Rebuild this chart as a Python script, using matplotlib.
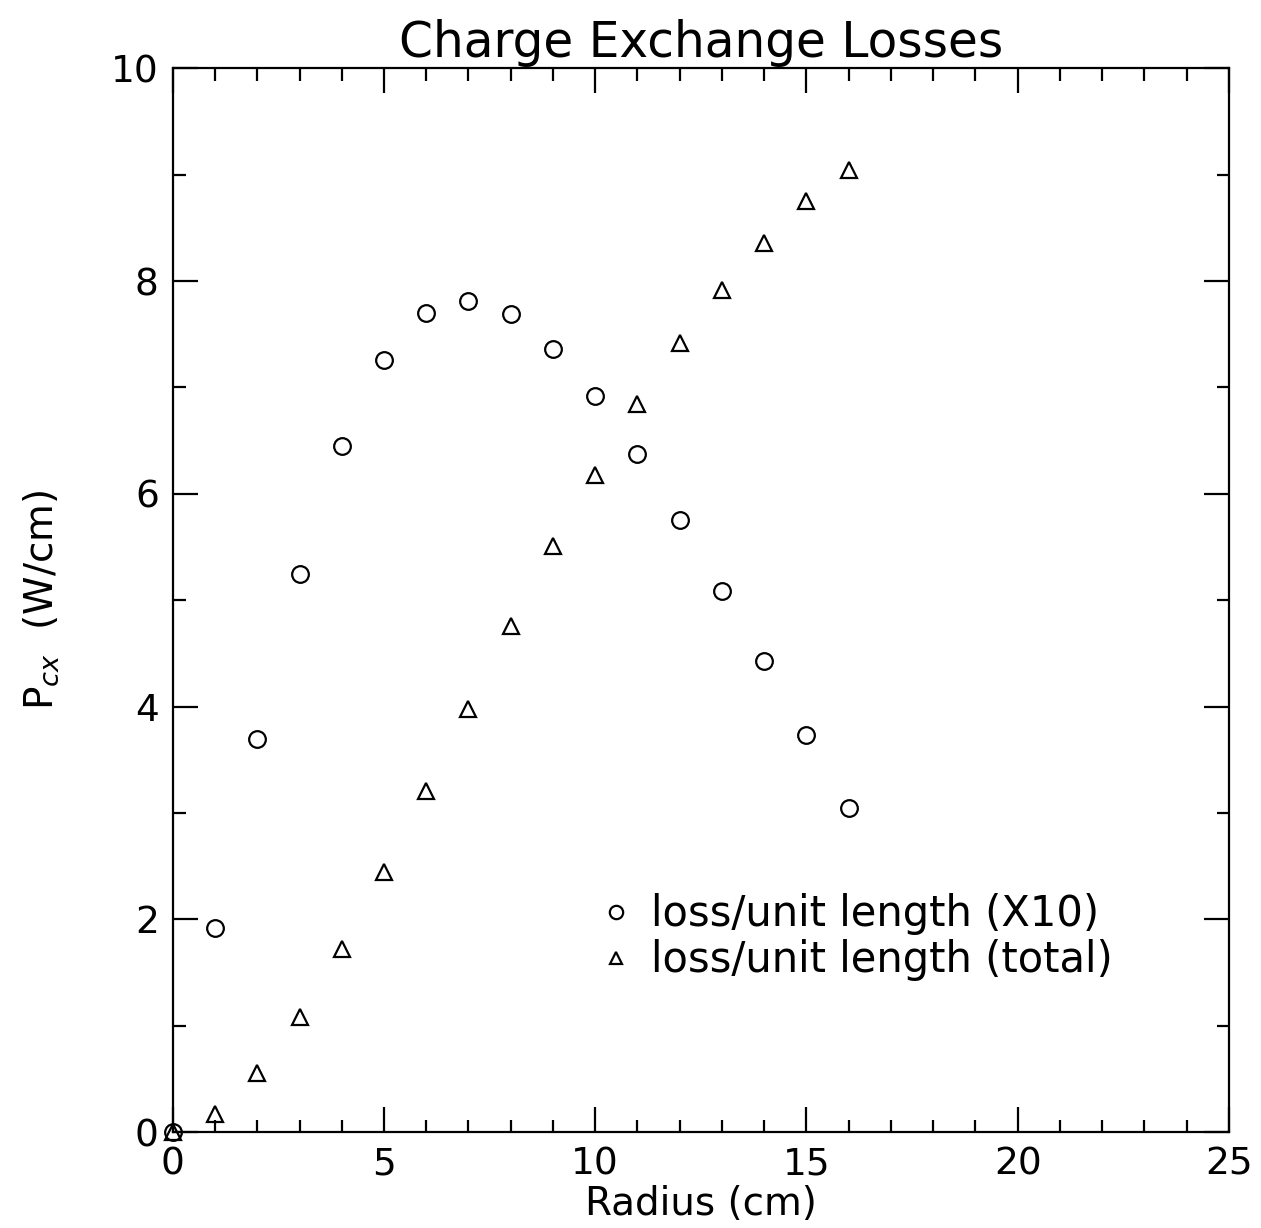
import numpy as np
import matplotlib.pyplot as plt
from matplotlib.ticker import MultipleLocator

# data
radius = [0, 1, 2, 3, 4, 5, 6, 7, 8, 9, 10, 11, 12, 13, 14, 15, 16]
loss_x10 = [0.0, 1.92, 3.70, 5.25, 6.45, 7.26, 7.70, 7.81, 7.69, 7.36,
            6.92, 6.37, 5.75, 5.09, 4.43, 3.73, 3.05]
loss_total = [0.0, 0.17, 0.56, 1.08, 1.72, 2.45, 3.21, 3.98, 4.76, 5.51,
              6.18, 6.84, 7.42, 7.92, 8.36, 8.75, 9.04]

def plot_losses():
    plt.rcParams['font.family'] = ['DejaVu Sans']
    fig = plt.figure(figsize=(12.61, 12.28), dpi=100)
    ax = fig.add_axes([0.137, 0.078, 0.8376, 0.8664])

    ax.plot(radius, loss_x10, linestyle="none", marker="o", markersize=12,
            markerfacecolor="none", markeredgecolor="black", markeredgewidth=1.6,
            clip_on=False, label="loss/unit length (X10)")
    ax.plot(radius, loss_total, linestyle="none", marker="^", markersize=11,
            markerfacecolor="none", markeredgecolor="black", markeredgewidth=1.6,
            clip_on=False, label="loss/unit length (total)")

    ax.set_xlim(0, 25)
    ax.set_ylim(0, 10)
    ax.xaxis.set_major_locator(MultipleLocator(5))
    ax.xaxis.set_minor_locator(MultipleLocator(1))
    ax.yaxis.set_major_locator(MultipleLocator(2))
    ax.yaxis.set_minor_locator(MultipleLocator(1))
    ax.tick_params(which="both", direction="in", top=True, right=True,
                   width=1.6, labelsize=27, pad=10)
    ax.tick_params(which="major", length=18)
    ax.tick_params(which="minor", length=9)
    for s in ax.spines.values():
        s.set_linewidth(1.6)

    ax.set_title("Charge Exchange Losses", fontsize=35, pad=8)
    ax.set_xlabel("Radius (cm)", fontsize=28, labelpad=2)
    ax.set_ylabel(r"P$_{cx}$  (W/cm)", fontsize=28, labelpad=36)

    ax.legend(loc="upper left", bbox_to_anchor=(0.37, 0.26), frameon=False,
              fontsize=30, handlelength=0.7, handletextpad=0.5, labelspacing=0.1,
              markerscale=0.8)

    fig.savefig("out.png", dpi=100)

if __name__ == "__main__":
    plot_losses()
